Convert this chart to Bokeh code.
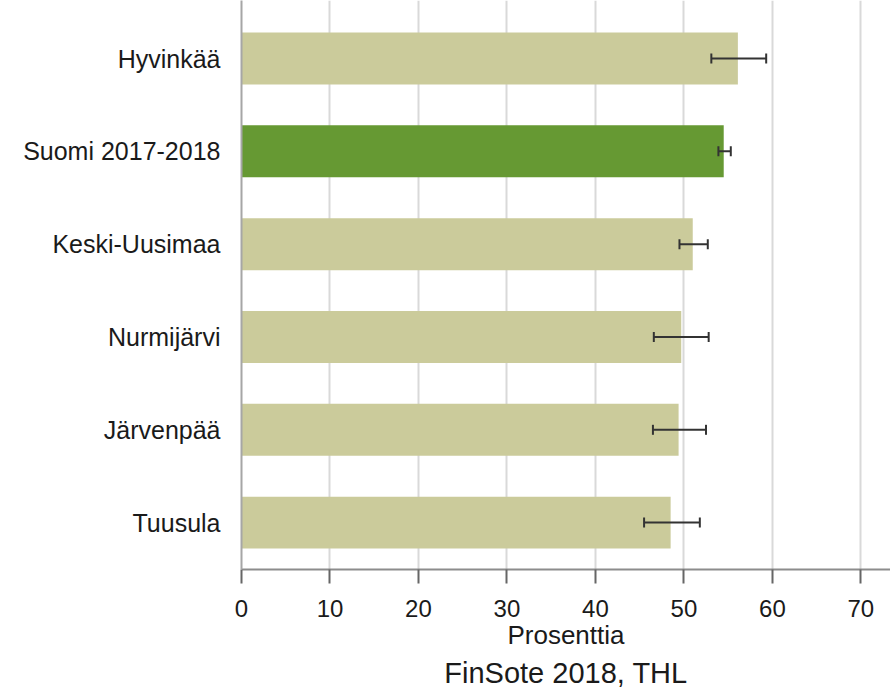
from bokeh.plotting import figure
from bokeh.models import (ColumnDataSource, Range1d, FixedTicker, Whisker, TeeHead, Title)
from bokeh.embed import file_html
from bokeh.resources import INLINE

# ---- data ----
categories = ["Hyvinkää", "Suomi 2017-2018", "Keski-Uusimaa", "Nurmijärvi", "Järvenpää", "Tuusula"]
values = [56.1, 54.5, 51.0, 49.7, 49.4, 48.5]
lower = [53.1, 53.9, 49.5, 46.6, 46.5, 45.5]
upper = [59.3, 55.3, 52.7, 52.8, 52.5, 51.8]
highlight = "Suomi 2017-2018"
x_ticks = [0, 10, 20, 30, 40, 50, 60, 70]
x_label = "Prosenttia"
source_text = "FinSote 2018, THL"

TAN = "#CBCB9B"
GREEN = "#669933"
FONT = "Liberation Sans"
TXT = "#1a1a1a"

n = len(categories)
ypos = [n - 1 - i for i in range(n)]
colors = [GREEN if c == highlight else TAN for c in categories]

src = ColumnDataSource(dict(y=ypos, v=values, lo=lower, hi=upper, c=colors, name=categories))

p = figure(width=890, height=688, output_backend="svg", toolbar_location=None,
           x_range=Range1d(0, 73.35), y_range=Range1d(-0.505, 5.625),
           min_border_left=241, min_border_right=0, min_border_top=0, min_border_bottom=119)
p.frame_width = 649
p.frame_height = 569
p.outline_line_color = None
p.background_fill_color = "white"

p.hbar(y="y", right="v", left=0, height=0.56, fill_color="c", line_color=None, source=src)

w = Whisker(source=src, base="y", lower="lo", upper="hi", dimension="width",
            line_color="#333333", line_width=2, level="overlay",
            lower_head=TeeHead(size=10, line_color="#333333", line_width=2),
            upper_head=TeeHead(size=10, line_color="#333333", line_width=2))
p.add_layout(w)

# x axis
p.xaxis.ticker = FixedTicker(ticks=x_ticks)
p.xaxis.axis_label = x_label
p.xaxis.axis_label_text_font = FONT
p.xaxis.axis_label_text_font_style = "normal"
p.xaxis.axis_label_text_font_size = "26px"
p.xaxis.axis_label_text_color = TXT
p.xaxis.axis_label_standoff = 0
p.xaxis.major_label_text_font = FONT
p.xaxis.major_label_text_font_size = "24px"
p.xaxis.major_label_text_color = TXT
p.xaxis.major_label_standoff = 16
p.xaxis.axis_line_color = "#8c8c8c"
p.xaxis.axis_line_width = 2
p.xaxis.major_tick_line_color = "#666666"
p.xaxis.major_tick_line_width = 2
p.xaxis.major_tick_out = 14
p.xaxis.major_tick_in = 0
p.xaxis.minor_tick_line_color = None

# y axis
p.yaxis.ticker = FixedTicker(ticks=ypos)
p.yaxis.major_label_overrides = {y: name for y, name in zip(ypos, categories)}
p.yaxis.major_label_text_font = FONT
p.yaxis.major_label_text_font_size = "25px"
p.yaxis.major_label_text_color = TXT
p.yaxis.major_label_standoff = 15
p.yaxis.major_tick_line_color = None
p.yaxis.minor_tick_line_color = None
p.yaxis.axis_line_color = "#a6a6a6"
p.yaxis.axis_line_width = 2

# grid
p.xgrid.grid_line_color = "#d9d9d9"
p.xgrid.grid_line_width = 2
p.ygrid.grid_line_color = None

t = Title(text=source_text, align="center", text_font=FONT, text_font_size="29px",
          text_font_style="normal", text_color=TXT, standoff=4)
p.add_layout(t, "below")

html = file_html(p, INLINE)
html = html.replace("</head>", "<style>html,body{margin:0;padding:0;}</style></head>", 1)
open("out.html", "w").write(html)
